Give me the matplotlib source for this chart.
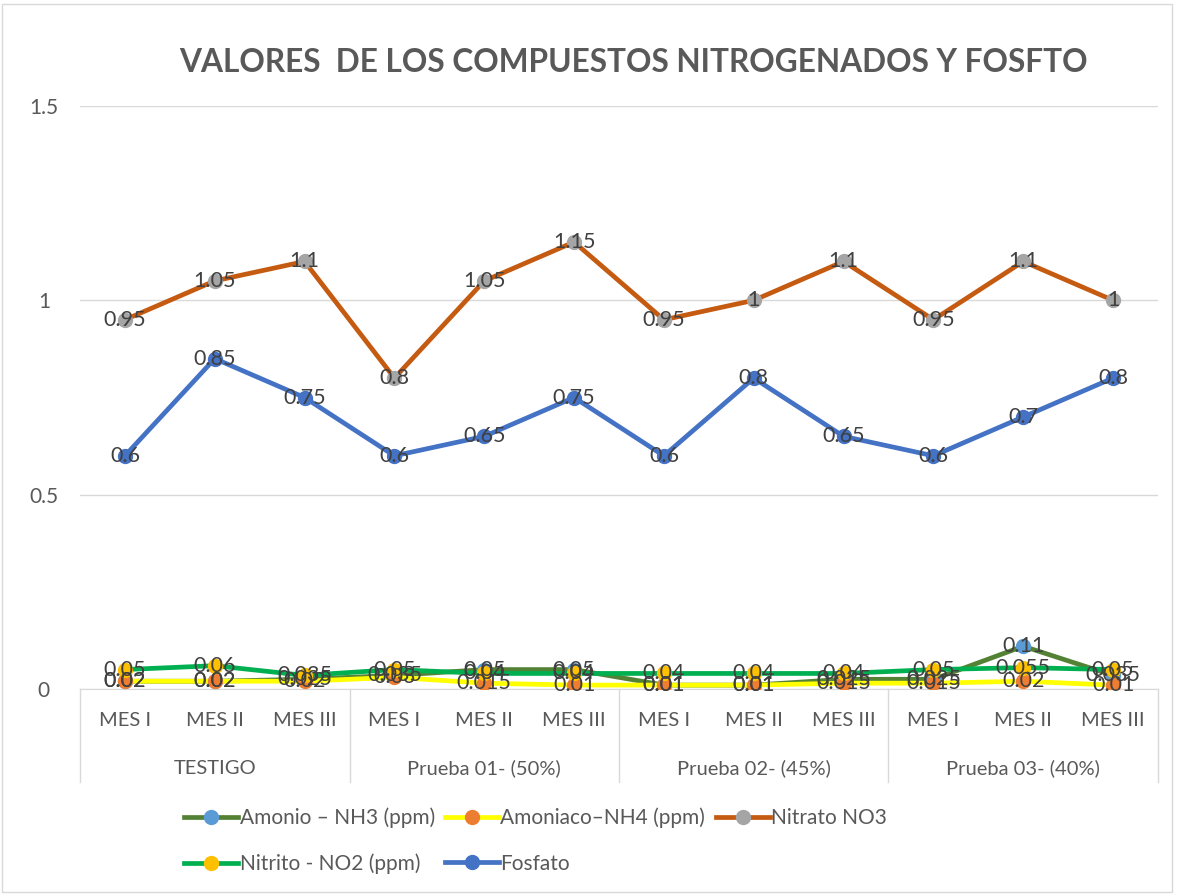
import matplotlib.pyplot as plt
from matplotlib.patches import Rectangle
from matplotlib.lines import Line2D
import matplotlib.transforms as mtransforms

plt.rcParams['font.family'] = ['Lato', 'DejaVu Sans']

# categories
meses = ["MES I", "MES II", "MES III"] * 4
grupos = ["TESTIGO", "Prueba 01- (50%)", "Prueba 02- (45%)", "Prueba 03- (40%)"]

# series values
amonio = [0.02, 0.02, 0.025, 0.035, 0.05, 0.05, 0.01, 0.01, 0.025, 0.025, 0.11, 0.035]
amoniaco = [0.02, 0.02, 0.02, 0.03, 0.015, 0.01, 0.01, 0.01, 0.015, 0.015, 0.02, 0.01]
nitrato = [0.95, 1.05, 1.1, 0.8, 1.05, 1.15, 0.95, 1, 1.1, 0.95, 1.1, 1]
nitrito = [0.05, 0.06, 0.035, 0.05, 0.04, 0.04, 0.04, 0.04, 0.04, 0.05, 0.055, 0.05]
fosfato = [0.6, 0.85, 0.75, 0.6, 0.65, 0.75, 0.6, 0.8, 0.65, 0.6, 0.7, 0.8]

series = [
    ("Amonio – NH3 (ppm)", amonio, "#548235", "#5b9bd5"),
    ("Amoniaco–NH4 (ppm)", amoniaco, "#ffff00", "#ed7d31"),
    ("Nitrato NO3", nitrato, "#c55a11", "#a5a5a5"),
    ("Nitrito - NO2 (ppm)", nitrito, "#00b050", "#ffc000"),
    ("Fosfato", fosfato, "#4472c4", "#4472c4"),
]

fig = plt.figure(figsize=(11.77, 8.94), dpi=100)
ax = fig.add_axes([80 / 1177, 1 - 689 / 894, 1078 / 1177, 583 / 894])

x = list(range(len(meses)))
handles = []
for i, (name, vals, lc, mc) in enumerate(series):
    ax.plot(x, vals, color=lc, lw=3.4, zorder=3 + i, solid_capstyle="round")
    ax.plot(x, vals, ls="none", marker="o", ms=10, color=mc, zorder=3 + i)
    handles.append(Line2D([], [], color=lc, lw=3.4, marker="o", ms=10,
                          markerfacecolor=mc, markeredgecolor=mc))
    # data labels centred on the points, like the original
    for xi, v in zip(x, vals):
        ax.text(xi, v, "{:g}".format(v), ha="center", va="center",
                fontsize=15.5, color="#404040", zorder=20)

ax.set_xlim(-0.5, len(meses) - 0.5)
ax.set_ylim(0, 1.5)
ax.set_yticks([0, 0.5, 1, 1.5])
ax.set_yticklabels(["0", "0.5", "1", "1.5"])
ax.tick_params(axis="y", length=0, pad=26, labelsize=15, labelcolor="#595959")
for lab in ax.get_yticklabels():
    lab.set_horizontalalignment("center")
ax.set_xticks([])
ax.grid(axis="y", color="#d9d9d9", lw=1)
ax.set_axisbelow(True)
for s in ["top", "right", "left"]:
    ax.spines[s].set_visible(False)
ax.spines["bottom"].set_color("#d9d9d9")

# hierarchical category axis
trans = mtransforms.blended_transform_factory(ax.transData, fig.transFigure)
for xi, m in zip(x, meses):
    ax.text(xi, 1 - 720 / 894, m, transform=trans, ha="center", va="center",
            fontsize=14.5, color="#595959")
for g, name in enumerate(grupos):
    ax.text(g * 3 + 1, 1 - 768 / 894, name, transform=trans, ha="center",
            va="center", fontsize=14.5, color="#595959")
for b in range(5):
    ax.add_line(Line2D([b * 3 - 0.5, b * 3 - 0.5], [1 - 689 / 894, 1 - 782 / 894],
                       transform=trans, color="#d9d9d9", lw=1, clip_on=False))

fig.text(633 / 1177, 1 - 62 / 894, "VALORES  DE LOS COMPUESTOS NITROGENADOS Y FOSFTO",
         ha="center", va="center", fontsize=22.8, fontweight="bold", color="#595959")

order = [0, 3, 1, 4, 2]
fig.legend([handles[i] for i in order], [series[i][0] for i in order],
           loc="center", bbox_to_anchor=(0.455, 1 - 841 / 894), ncol=3,
           frameon=False, fontsize=15, labelcolor="#595959",
           handlelength=2.6, handletextpad=0.05, columnspacing=0.5,
           labelspacing=1.2)

fig.patches.append(Rectangle((0.002, 0.002), 0.994, 0.994, transform=fig.transFigure,
                             fill=False, edgecolor="#d9d9d9", lw=1))

fig.savefig("out.png", dpi=100, facecolor="white")
